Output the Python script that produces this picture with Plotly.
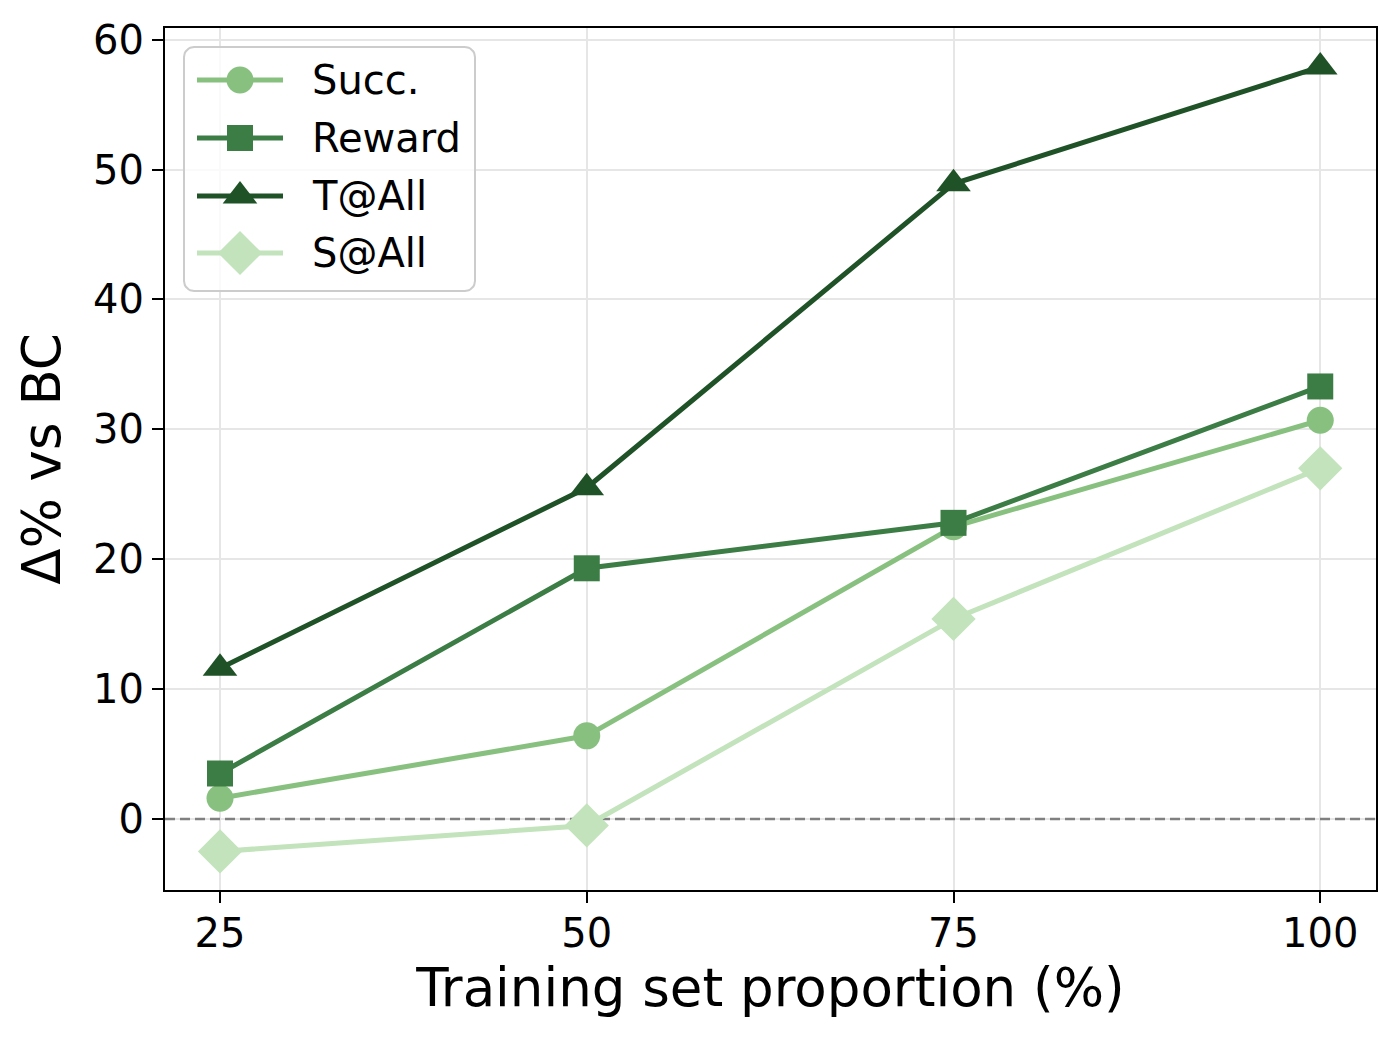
import math
import plotly.graph_objects as go

x_vals = [25, 50, 75, 100]
succ = [1.6, 6.4, 22.5, 30.7]
reward = [3.5, 19.3, 22.8, 33.3]
t_all = [11.6, 25.5, 48.9, 57.9]
s_all = [-2.5, -0.5, 15.4, 27.0]

x_ticks = [25, 50, 75, 100]
y_ticks = [0, 10, 20, 30, 40, 50, 60]
series_names = ["Succ.", "Reward", "T@All", "S@All"]

colors = ["#88c17f", "#3b7d45", "#1f5227", "#c2e3bb"]
symbols = ["circle", "square", "triangle-up", "diamond"]
sizes = [27, 26, 30, 34]
series_values = [succ, reward, t_all, s_all]

X_RANGE = [21.25, 103.8]
Y_RANGE = [-5.47, 60.9]

font_family = "DejaVu Sans"
fig = go.Figure()

# dashed reference line at 0 (drawn first so markers sit on top)
fig.add_trace(go.Scatter(
    x=X_RANGE, y=[0, 0], mode="lines", showlegend=False, hoverinfo="skip",
    line=dict(color="#808080", width=2.5, dash="10px,5px")))

for name, ys, color, sym, size in zip(series_names, series_values, colors, symbols, sizes):
    fig.add_trace(go.Scatter(
        x=x_vals, y=ys, name=name, mode="lines+markers", showlegend=False,
        line=dict(color=color, width=5),
        marker=dict(symbol=sym, size=size, color=color, line=dict(width=0)),
    ))

# --- legend (drawn in a pixel-space overlay axis to match matplotlib's look) ---
L_LEFT, L_RIGHT, L_TOP, L_BOTTOM, RAD = 184, 475, 47, 291, 10
row_y = [80, 138, 196, 253]
line_x0, line_x1, mark_x, text_x = 197, 283, 240, 310

bx, by = [], []
corners = [(L_RIGHT - RAD, L_TOP + RAD, -90, 0),
           (L_RIGHT - RAD, L_BOTTOM - RAD, 0, 90),
           (L_LEFT + RAD, L_BOTTOM - RAD, 90, 180),
           (L_LEFT + RAD, L_TOP + RAD, 180, 270)]
for cx, cy, a0, a1 in corners:
    for k in range(9):
        a = math.radians(a0 + (a1 - a0) * k / 8)
        bx.append(cx + RAD * math.cos(a))
        by.append(cy + RAD * math.sin(a))
bx.append(bx[0])
by.append(by[0])
fig.add_trace(go.Scatter(
    x=bx, y=by, xaxis="x2", yaxis="y2", mode="lines", fill="toself",
    fillcolor="rgba(255,255,255,0.8)", line=dict(color="#cccccc", width=2),
    showlegend=False, hoverinfo="skip"))

for name, color, sym, size, ry in zip(series_names, colors, symbols, sizes, row_y):
    fig.add_trace(go.Scatter(
        x=[line_x0, line_x1], y=[ry, ry], xaxis="x2", yaxis="y2", mode="lines",
        line=dict(color=color, width=5), showlegend=False, hoverinfo="skip"))
    fig.add_trace(go.Scatter(
        x=[mark_x], y=[ry], xaxis="x2", yaxis="y2", mode="markers",
        marker=dict(symbol=sym, size=size, color=color, line=dict(width=0)),
        showlegend=False, hoverinfo="skip"))
    fig.add_annotation(x=text_x, y=ry, xref="x2", yref="y2", text=name,
                       showarrow=False, xanchor="left", yanchor="middle",
                       font=dict(size=40, family=font_family, color="black"))

fig.update_layout(
    width=1400, height=1044,
    margin=dict(l=165, r=24, t=28, b=154),
    plot_bgcolor="white", paper_bgcolor="white",
    font=dict(family=font_family, color="black"),
    showlegend=False,
    xaxis=dict(
        range=X_RANGE, tickvals=x_ticks, ticktext=[str(v) for v in x_ticks],
        showgrid=True, gridcolor="#e6e6e6", gridwidth=1.5,
        showline=True, linecolor="black", linewidth=2, mirror=True,
        ticks="outside", ticklen=11, tickwidth=2, tickcolor="black",
        tickfont=dict(size=40), zeroline=False, ticklabelstandoff=-4,
        title=dict(text="Training set proportion (%)", font=dict(size=53), standoff=14),
    ),
    yaxis=dict(
        range=Y_RANGE, tickvals=y_ticks, ticktext=[str(v) for v in y_ticks],
        showgrid=True, gridcolor="#e6e6e6", gridwidth=1.5,
        showline=True, linecolor="black", linewidth=2, mirror=True,
        ticks="outside", ticklen=11, tickwidth=2, tickcolor="black",
        tickfont=dict(size=40), zeroline=False,
        title=dict(text="Δ% vs BC", font=dict(size=53), standoff=16),
    ),
    xaxis2=dict(range=[165, 1376], overlaying="x", anchor="y2", visible=False,
                fixedrange=True),
    yaxis2=dict(range=[890, 28], overlaying="y", anchor="x2", visible=False,
                fixedrange=True),
)

fig.write_html("out.html")
